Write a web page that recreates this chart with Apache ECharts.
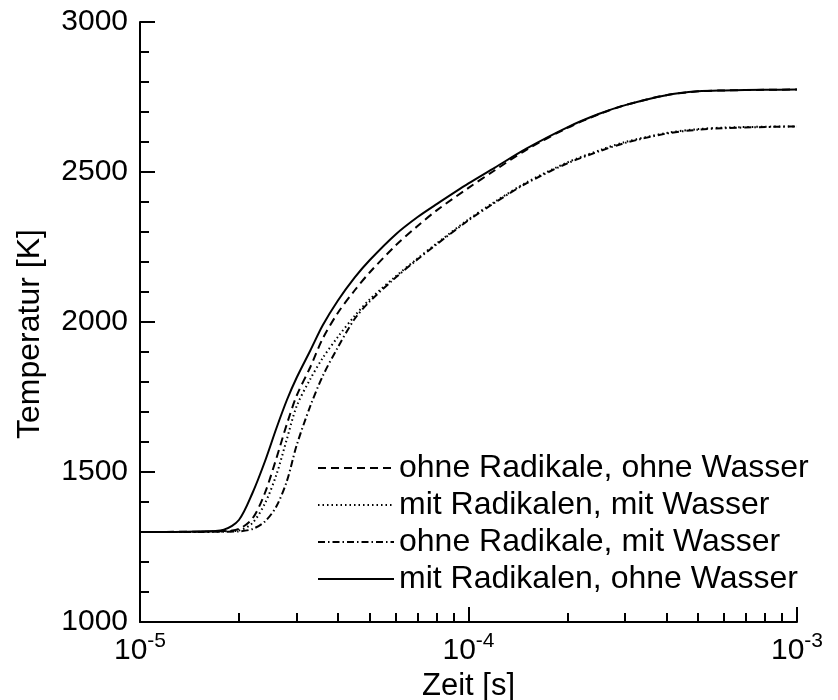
<!DOCTYPE html>
<html>
<head>
<meta charset="utf-8">
<script src="https://cdn.jsdelivr.net/npm/echarts@6/dist/echarts.min.js"></script>
<style>html,body{margin:0;padding:0;background:#fff}#c{width:838px;height:700px}</style>
</head>
<body>
<div id="c"></div>
<script>
// time [s]
const timeValues = [1e-5, 1.5e-5, 1.8e-5, 2.0e-5, 2.2e-5, 2.4e-5, 2.6e-5, 2.8e-5, 3.0e-5, 3.3e-5, 3.6e-5, 4.0e-5, 4.5e-5, 5e-5, 6e-5, 7e-5, 8e-5, 1e-4, 1.2e-4, 1.5e-4, 2e-4, 2.5e-4, 3e-4, 4e-4, 5e-4, 6e-4, 8e-4, 1e-3];
// temperatures [K]
const ohneRadOhneWasser = [1300, 1301, 1303, 1310, 1345, 1430, 1545, 1660, 1755, 1850, 1945, 2030, 2105, 2165, 2255, 2320, 2372, 2447, 2505, 2574, 2647, 2693, 2723, 2756, 2769, 2772, 2774, 2775];
const mitRadMitWasser = [1300, 1300, 1302, 1305, 1330, 1395, 1490, 1610, 1720, 1810, 1880, 1950, 2020, 2075, 2152, 2212, 2262, 2342, 2400, 2465, 2532, 2572, 2600, 2630, 2643, 2648, 2651, 2652];
const ohneRadMitWasser = [1300, 1300, 1301, 1302, 1310, 1335, 1385, 1470, 1590, 1720, 1820, 1915, 2010, 2068, 2148, 2209, 2259, 2339, 2397, 2462, 2529, 2569, 2597, 2628, 2641, 2646, 2650, 2652];
const mitRadOhneWasser = [1300, 1302, 1308, 1340, 1430, 1535, 1645, 1740, 1815, 1905, 1989, 2071, 2148, 2206, 2292, 2350, 2393, 2462, 2514, 2578, 2649, 2694, 2723, 2756, 2769, 2772, 2774, 2775];

const seriesNames = ['ohne Radikale, ohne Wasser', 'mit Radikalen, mit Wasser', 'ohne Radikale, mit Wasser', 'mit Radikalen, ohne Wasser'];
const xMinorTicks = [2e-5, 3e-5, 4e-5, 5e-5, 6e-5, 7e-5, 8e-5, 9e-5, 2e-4, 3e-4, 4e-4, 5e-4, 6e-4, 7e-4, 8e-4, 9e-4];

const FONT = '"Liberation Sans", Arial, sans-serif';
const pair = (ys) => timeValues.map((t, i) => [t, ys[i]]);

function mk(name, ys, type) {
  return {
    name: name, type: 'line', data: pair(ys), xAxisIndex: 0,
    symbol: 'none', smooth: 0.3,
    lineStyle: { color: '#000', width: 2, type: type, cap: 'butt' },
    itemStyle: { color: '#000' }
  };
}

const chart = echarts.init(document.getElementById('c'), null, { renderer: 'canvas' });
chart.setOption({
  animation: false,
  backgroundColor: '#fff',
  textStyle: { fontFamily: FONT, color: '#000' },
  grid: { left: 140, right: 41, top: 22, bottom: 78, containLabel: false, outerBoundsMode: 'none' },
  legend: {
    orient: 'vertical', left: 312, top: 447, align: 'left',
    itemWidth: 76, itemHeight: 14, itemGap: 5,
    itemStyle: { color: 'rgba(0,0,0,0)', borderColor: 'rgba(0,0,0,0)', borderWidth: 0 },
    textStyle: { fontFamily: FONT, fontSize: 32, color: '#000', lineHeight: 32 },
    data: seriesNames
  },
  xAxis: [{
    type: 'log', logBase: 10, min: 1e-5, max: 1e-3,
    name: 'Zeit [s]', nameLocation: 'middle', nameGap: 46,
    nameTextStyle: { fontFamily: FONT, fontSize: 31, color: '#000' },
    axisLine: { onZero: false, lineStyle: { color: '#000', width: 2 } },
    axisTick: { inside: true, length: 15, lineStyle: { color: '#000', width: 2 } },
    splitLine: { show: false },
    axisLabel: {
      margin: 9, color: '#000',
      formatter: function (v) { return '{b|10}{s|' + Math.round(Math.log10(v)) + '}'; },
      rich: {
        b: { fontFamily: FONT, fontSize: 30, color: '#000', verticalAlign: 'bottom' },
        s: { fontFamily: FONT, fontSize: 21, color: '#000', verticalAlign: 'bottom', padding: [0, 0, 14, 0] }
      }
    }
  }, {
    type: 'log', logBase: 10, min: 1e-5, max: 1e-3, position: 'bottom', gridIndex: 0,
    axisLine: { show: false },
    axisLabel: { show: false },
    splitLine: { show: false },
    axisTick: { show: true, inside: true, length: 9, customValues: xMinorTicks, lineStyle: { color: '#000', width: 2 } }
  }],
  yAxis: {
    type: 'value', min: 1000, max: 3000, interval: 500,
    name: 'Temperatur [K]', nameLocation: 'middle', nameGap: 94, nameRotate: 90,
    nameTextStyle: { fontFamily: FONT, fontSize: 32, color: '#000', padding: [0, 24, 0, 0] },
    axisLine: { show: true, onZero: false, lineStyle: { color: '#000', width: 2 } },
    axisTick: { show: true, inside: true, length: 15, lineStyle: { color: '#000', width: 2 } },
    minorTick: { show: true, splitNumber: 5, length: 9, lineStyle: { color: '#000', width: 2 } },
    splitLine: { show: false },
    minorSplitLine: { show: false },
    axisLabel: { margin: 12, fontFamily: FONT, fontSize: 30, color: '#000', formatter: function (v) { return String(v); } }
  },
  series: [
    mk(seriesNames[0], ohneRadOhneWasser, [8, 5]),
    mk(seriesNames[1], mitRadMitWasser, [1.5, 3]),
    mk(seriesNames[2], ohneRadMitWasser, [7, 3, 1.5, 3]),
    mk(seriesNames[3], mitRadOhneWasser, 'solid')
  ]
});
</script>
</body>
</html>
